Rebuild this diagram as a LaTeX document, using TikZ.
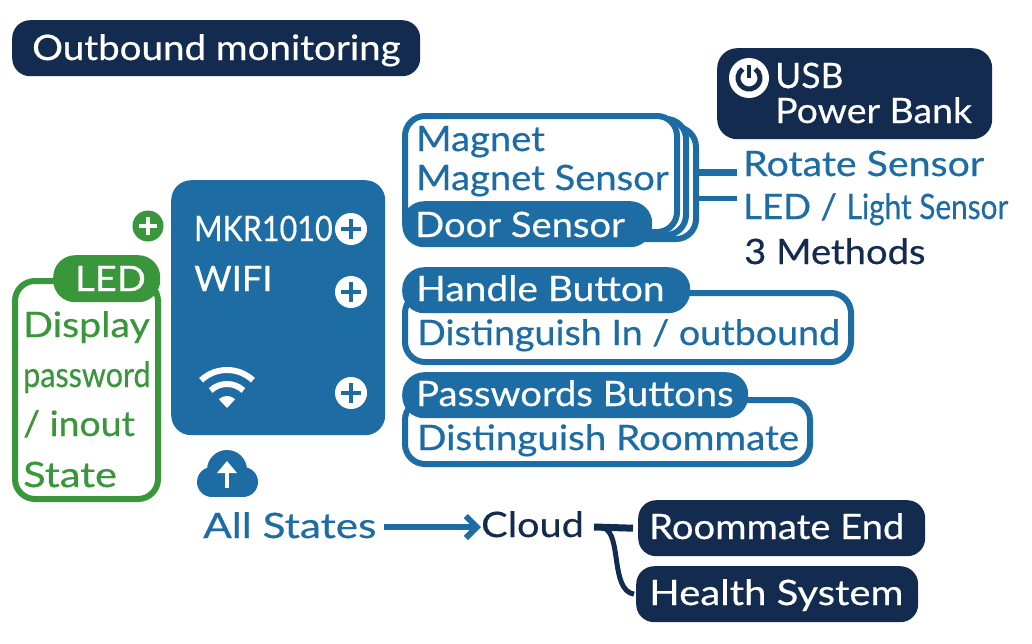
\documentclass[tikz,border=0pt]{standalone}
\usepackage{fontspec}
\usetikzlibrary{arrows.meta}
\setmainfont{Lato}[FakeStretch=1.09,FakeBold=0.5]
\definecolor{navy}{HTML}{142B50}
\definecolor{board}{HTML}{1D6CA3}
\definecolor{leaf}{HTML}{3A963B}
\newcommand{\sx}[2]{\scalebox{#1}[1]{#2}}
\tikzset{
	lbl/.style={inner sep=0pt,anchor=base west,font=\fontsize{35}{40}\selectfont},
	panel/.style={anchor=north west,inner sep=0pt,rounded corners=#1},
	darkbox/.style={panel=18pt,fill=navy},
	pillbox/.style={panel=22pt,fill=board},
	framebox/.style={panel=20pt,draw=board,line width=6pt,fill=white},
	plusdot/.style={circle,inner sep=0pt,minimum size=#1},
	link/.style={draw=board,line width=6pt},
	navylink/.style={draw=navy,line width=6pt}
}
\begin{document}
\begin{tikzpicture}[x=1pt,y=-1pt]
\useasboundingbox (0,0) rectangle (1032,643);
% title
\node[darkbox,minimum width=408pt,minimum height=56pt] (titlebox) at (12,20) {};
\node[lbl,white] (titlelbl) at (32,60) {\sx{1.01}{Outbound monitoring}};
% board
\node[panel=20pt,fill=board,minimum width=214pt,minimum height=255pt] (mkr) at (171,180) {};
\node[lbl,white] (mkrlbl) at (194,241) {\sx{.8}{MKR1010}};
\node[lbl,white] (wifilbl) at (194,291) {\sx{.95}{WIFI}};
\foreach \n/\y in {a/229,b/292,c/393}{
	\node[plusdot=32pt,fill=white] (plus\n) at (351,\y) {};
	\draw[board,line width=4pt] (plus\n.center)+(-10,0) -- +(10,0);
	\draw[board,line width=4pt] (plus\n.center)+(0,-10) -- +(0,10);
}
\coordinate (wifi) at (227,408);
\foreach \r in {38,24}{
	\draw[white,line width=6pt] ([shift={(47:\r pt)}]wifi) arc[start angle=47,end angle=133,radius=\r pt];
}
\fill[white] (wifi) -- ([shift={(47:12pt)}]wifi) arc[start angle=47,end angle=133,radius=12pt] -- cycle;
% LED
\node[plusdot=31pt,fill=leaf] (plusled) at (148,226) {};
\draw[white,line width=4pt] (plusled.center)+(-9,0) -- +(9,0);
\draw[white,line width=4pt] (plusled.center)+(0,-9) -- +(0,9);
\node[panel=20pt,draw=leaf,line width=6pt,fill=white,minimum width=143pt,minimum height=218pt] (ledbox) at (12,278) {};
\node[panel=22pt,fill=leaf,minimum width=107pt,minimum height=47pt] (ledpill) at (53,255) {};
\node[lbl,white] (ledlbl) at (75,291) {LED};
\node[lbl,leaf] (displaylbl) at (23,337) {\sx{1.03}{Display}};
\node[lbl,leaf] (passlbl) at (23,387) {\sx{.8}{password}};
\node[lbl,leaf] (inoutlbl) at (23,436) {\sx{.98}{/ inout}};
\node[lbl,leaf] (statelbl) at (23,487) {\sx{1.09}{State}};
% cloud
\fill[board] (227,470) circle (20pt) (212,482) circle (15pt) (243,482) circle (15pt);
\fill[board] (212,472) rectangle (243,497);
\node[inner sep=0pt,minimum size=1pt] (cloudup) at (227,488) {};
\draw[white,line width=4pt] (cloudup.center) -- +(0,-16);
\fill[white] (227,461) -- (237,473) -- (217,473) -- cycle;
% magnet stack
\node[framebox,minimum width=291pt,minimum height=112pt] (magc) at (402,124) {};
\node[framebox,minimum width=281pt,minimum height=116pt] (magb) at (402,116) {};
\node[framebox,minimum width=272pt,minimum height=116pt] (maga) at (402,113) {};
\node[pillbox,minimum width=250pt,minimum height=46pt] (door) at (402,201) {};
\node[lbl,board] (magnetlbl) at (416,151) {Magnet};
\node[lbl,board] (senslbl) at (416,190) {Magnet Sensor};
\node[lbl,white] (doorlbl) at (415,237) {Door Sensor};
% buttons
\node[framebox,minimum width=446pt,minimum height=69pt] (handlebox) at (402,290) {};
\node[pillbox,minimum width=288pt,minimum height=46pt] (handle) at (402,267) {};
\node[lbl,white] (handlelbl) at (416,301) {\sx{1.02}{Handle Button}};
\node[lbl,board] (inlbl) at (417,345) {\sx{.986}{Distinguish In / outbound}};
\node[framebox,minimum width=405pt,minimum height=64pt] (passbox) at (402,397) {};
\node[pillbox,minimum width=346pt,minimum height=46pt] (passw) at (402,372) {};
\node[lbl,white] (passwlbl) at (416,406) {Passwords Buttons};
\node[lbl,board] (rmlbl) at (417,450) {\sx{1.01}{Distinguish Roommate}};
% power
\node[panel=20pt,fill=navy,minimum width=275pt,minimum height=91pt] (usb) at (717,48) {};
\node[plusdot=40pt,fill=white] (power) at (749,78) {};
\draw[navy,line width=5pt] ([shift={(125:11pt)}]power.center) arc[start angle=125,end angle=415,radius=11pt];
\draw[navy,line width=4pt] (power.center) -- +(0,-13);
\node[lbl,white] (usblbl) at (775,88) {\sx{.93}{USB}};
\node[lbl,white] (banklbl) at (775,123) {\sx{.98}{Power Bank}};
% methods
\node[lbl,board] (rotate) at (743,176) {\sx{1.03}{Rotate Sensor}};
\node[lbl,board] (light) at (743,219) {\sx{.96}{LED /} \sx{.78}{Light Sensor}};
\node[lbl,navy] (methods) at (744,264) {3 Methods};
\coordinate (rotatein) at ([shift={(-6,-4)}]rotate.base west);
\coordinate (lightin) at ([shift={(-6,-21)}]light.base west);
\draw[link,line width=7pt] (magc.east |- rotatein) -- (rotatein);
\draw[link,line width=5pt] (magc.east |- lightin) -- (lightin);
% cloud row
\node[lbl,board] (states) at (203,538) {\sx{1.11}{All States}};
\node[lbl,navy] (cloudlbl) at (481,537) {\sx{1.04}{Cloud}};
\coordinate (statesout) at (384,527);
\draw[board,line width=6pt,-{Straight Barb[length=11pt,width=22pt]}] (statesout) -- (cloudlbl.west |- statesout);
\node[darkbox,minimum width=287pt,minimum height=56pt] (roommate) at (638,500) {};
\node[darkbox,minimum width=282pt,minimum height=56pt] (health) at (636,566) {};
\node[lbl,white] (roomlbl) at (649,539) {Roommate End};
\node[lbl,white] (healthlbl) at (649,605) {\sx{1.05}{Health System}};
\coordinate (cloudout) at (594,527);
\draw[navylink,line width=7pt] (cloudout) -- ([xshift=-5pt]roommate.west);
\draw[navylink,line width=5pt] (604,528) .. controls (622,535) and (610,590) .. ([xshift=-2pt]health.west);
\end{tikzpicture}
\end{document}
